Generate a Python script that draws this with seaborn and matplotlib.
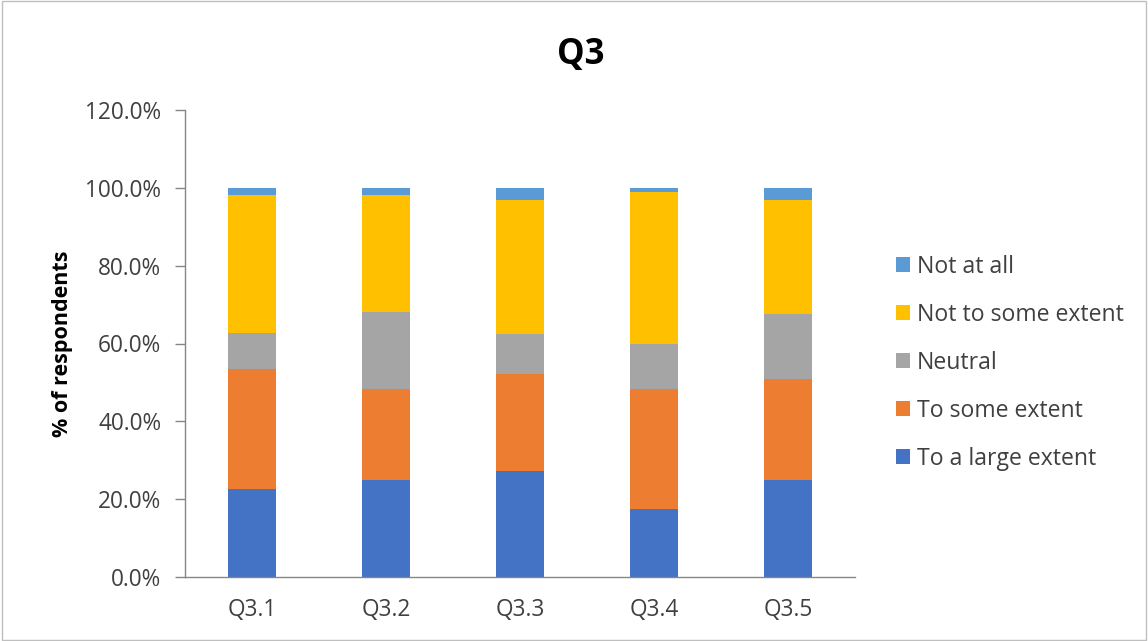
import matplotlib
matplotlib.use("Agg")
import matplotlib.pyplot as plt
import seaborn as sns
import pandas as pd
import numpy as np
from matplotlib.patches import Patch, Rectangle
from matplotlib.ticker import FuncFormatter, MultipleLocator

categories = ["Q3.1", "Q3.2", "Q3.3", "Q3.4", "Q3.5"]
large_extent = [22.6, 24.9, 27.2, 17.6, 24.9]
some_extent = [30.8, 23.4, 24.9, 30.7, 26.1]
neutral = [9.3, 19.8, 10.4, 11.5, 16.7]
not_some_extent = [35.4, 30.0, 34.3, 39.2, 29.1]
not_at_all = [1.9, 1.9, 3.2, 1.0, 3.2]

series_names = ["To a large extent", "To some extent", "Neutral",
                "Not to some extent", "Not at all"]
series_values = [large_extent, some_extent, neutral, not_some_extent, not_at_all]
colors = ["#4472C4", "#ED7D31", "#A5A5A5", "#FFC000", "#5B9BD5"]

sns.set_theme(style="white")
plt.rcParams["font.family"] = ["Open Sans", "DejaVu Sans"]

fig = plt.figure(figsize=(11.48, 6.41), dpi=100)
ax = fig.add_axes([185 / 1148, 1 - 577 / 641, (855 - 185) / 1148, (577 - 110) / 641])

cum = np.cumsum(np.array(series_values), axis=0)
df = pd.DataFrame({"cat": categories})
for i in range(len(series_names) - 1, -1, -1):
    df["v"] = cum[i]
    sns.barplot(data=df, x="cat", y="v", color=colors[i], width=0.365,
                saturation=1, ax=ax, order=categories, linewidth=0)

ax.set_ylim(0, 120)
ax.set_xlim(-0.5, 4.5)
ax.yaxis.set_major_locator(MultipleLocator(20))
ax.yaxis.set_major_formatter(FuncFormatter(lambda v, p: f"{v:.1f}%"))
ax.set_xlabel("")
ax.set_ylabel("% of respondents", fontsize=15.5, fontweight="bold", labelpad=9,
              color="black")
for s in ["top", "right"]:
    ax.spines[s].set_visible(False)
for s in ["left", "bottom"]:
    ax.spines[s].set_color("#868686")
    ax.spines[s].set_linewidth(1.0)
ax.tick_params(axis="y", which="major", left=True, length=7, width=1,
               color="#868686", labelsize=16.3, labelcolor="#404040", pad=10)
ax.tick_params(axis="x", bottom=False, labelsize=16.3, labelcolor="#404040", pad=9)

fig.text(581 / 1148, 1 - 55 / 641, "Q3", fontsize=25,
         fontweight="bold", ha="center", va="center", color="black")

handles = [Patch(facecolor=colors[i], edgecolor="none", label=series_names[i])
           for i in range(len(series_names) - 1, -1, -1)]
fig.legend(handles=handles, loc="center left", bbox_to_anchor=(896 / 1148, 1 - 363 / 641),
           frameon=False, fontsize=16.6, handlelength=0.62, handleheight=0.62,
           handletextpad=0.3, labelspacing=1.04, borderpad=0, borderaxespad=0,
           labelcolor="#404040")

fig.patches.append(Rectangle((0.002, 0.002), 0.996, 0.996, transform=fig.transFigure,
                             fill=False, edgecolor="#BFBFBF", linewidth=1))

fig.savefig("out.png", dpi=100)
